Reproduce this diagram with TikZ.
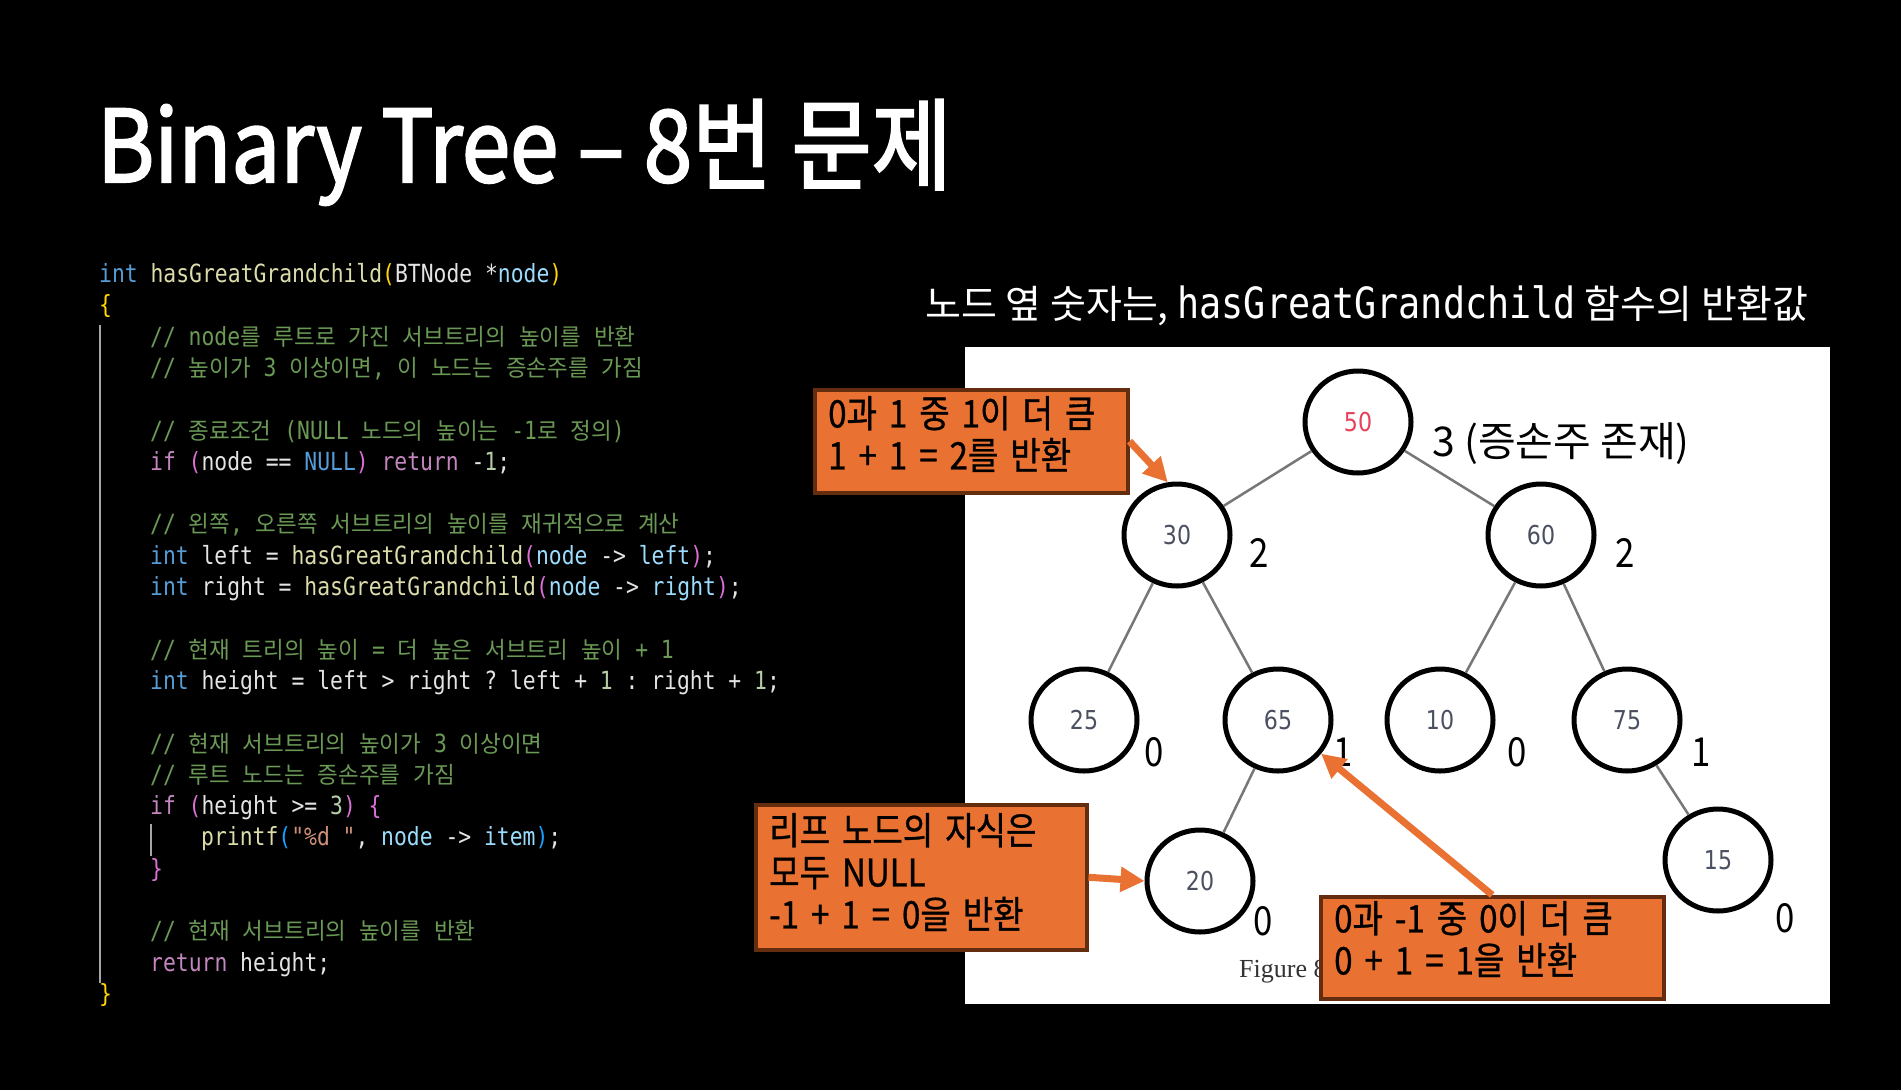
\documentclass[tikz,border=0pt]{standalone}
\usepackage{fontspec}
\usetikzlibrary{shapes.geometric,arrows.meta}
\setmainfont{Noto Sans CJK KR}
\newfontfamily\titlefont{Noto Sans CJK KR}[FakeStretch=0.87,FakeBold=2]
\newfontfamily\krfont{Noto Sans CJK KR}
\newfontfamily\krcond{Noto Sans CJK KR}[FakeStretch=0.87]
\newfontfamily\krcondb{Noto Sans CJK KR}[FakeStretch=0.87,FakeBold=0.8]
\newfontfamily\codefont{DejaVu Sans Mono}[FakeStretch=0.855]
\newfontfamily\codekr{Noto Sans CJK KR}[FakeStretch=0.97]
\newfontfamily\numfont{DejaVu Sans}[FakeStretch=0.85]
\newfontfamily\figfont{Liberation Serif}
\definecolor{ckw}{HTML}{569CD6}
\definecolor{cfn}{HTML}{DCDCAA}
\definecolor{ccm}{HTML}{6A9955}
\definecolor{cctl}{HTML}{C586C0}
\definecolor{cvar}{HTML}{9CDCFE}
\definecolor{cnum}{HTML}{B5CEA8}
\definecolor{cstr}{HTML}{CE9178}
\definecolor{cp1}{HTML}{FFD700}
\definecolor{cp2}{HTML}{DA70D6}
\definecolor{cp3}{HTML}{179FFF}
\definecolor{cwhite}{HTML}{E4E4E4}
\definecolor{boxorange}{RGB}{233,113,50}
\definecolor{boxbrown}{RGB}{100,45,15}
\definecolor{edgegray}{HTML}{777777}
\definecolor{numgray}{HTML}{4A5060}
\definecolor{numred}{HTML}{E8405A}
\newcommand\cc[2]{\textcolor{#1}{#2}}
\newcommand\K[1]{{\codekr\fontsize{23.2}{31}\selectfont #1}}
\newcommand\cm[1]{\textcolor{ccm}{#1}}
\newcommand\codesetup{\codefont\fontsize{25}{31}\selectfont\frenchspacing\spaceskip=12.8pt\relax}
\newcommand\boxsetup{\krcondb\fontsize{38}{42}\selectfont\frenchspacing\spaceskip=12pt\relax}
\tikzset{
  code/.style={anchor=base west, inner sep=0pt, text=cwhite, font=\codesetup},
  tnode/.style={ellipse, draw=black, line width=5pt, fill=white,
    minimum width=106pt, minimum height=102pt, inner sep=0pt,
    text=numgray, font=\numfont\fontsize{26}{28}\selectfont},
  tedge/.style={draw=edgegray, line width=2.5pt},
  vlabel/.style={inner sep=0pt, text=black, font=\krcond\fontsize{40}{44}\selectfont},
  obox/.style={draw=boxbrown, line width=3.5pt, fill=boxorange, anchor=north west,
    inner sep=0pt},
  btext/.style={anchor=west, inner sep=0pt, align=left, text=black, font=\boxsetup},
  oarrow/.style={draw=boxorange, line width=7pt, -{Triangle[length=24pt,width=24pt]}},
  guide/.style={draw=gray!70, line width=1.5pt}
}
\begin{document}
\begin{tikzpicture}[x=1pt,y=-1pt]
\useasboundingbox (0,0) rectangle (1901,1090);
\fill[black] (0,0) rectangle (1901,1090);

% title
\node[anchor=base west, inner sep=0pt, text=white, font=\titlefont\fontsize{100}{110}\selectfont] (title) at (97,182) {Binary Tree – 8번 문제};

% code
\draw[guide] (100,325) -- (100,983);
\draw[guide] (151,824) -- (151,856);
\node[code] (c0) at (99,282) {\cc{ckw}{int} \cc{cfn}{hasGreatGrandchild}\cc{cp1}{(}BTNode *\cc{cvar}{node}\cc{cp1}{)}};
\node[code] (c1) at (99,313) {\cc{cp1}{\{}};
\node[code] (c2) at (150,345) {\cm{// node\K{를 루트로 가진 서브트리의 높이를 반환}}};
\node[code] (c3) at (150,376) {\cm{// \K{높이가} 3 \K{이상이면}, \K{이 노드는 증손주를 가짐}}};
\node[code] (c5) at (150,439) {\cm{// \K{종료조건} (NULL \K{노드의 높이는} -1\K{로 정의})}};
\node[code] (c6) at (150,470) {\cc{cctl}{if} \cc{cp2}{(}node == \cc{ckw}{NULL}\cc{cp2}{)} \cc{cctl}{return} -\cc{cnum}{1};};
\node[code] (c8) at (150,532) {\cm{// \K{왼쪽}, \K{오른쪽 서브트리의 높이를 재귀적으로 계산}}};
\node[code] (c9) at (150,564) {\cc{ckw}{int} left = \cc{cfn}{hasGreatGrandchild}\cc{cp2}{(}\cc{cvar}{node} -> \cc{cvar}{left}\cc{cp2}{)};};
\node[code] (c10) at (150,595) {\cc{ckw}{int} right = \cc{cfn}{hasGreatGrandchild}\cc{cp2}{(}\cc{cvar}{node} -> \cc{cvar}{right}\cc{cp2}{)};};
\node[code] (c12) at (150,658) {\cm{// \K{현재 트리의 높이} = \K{더 높은 서브트리 높이} + 1}};
\node[code] (c13) at (150,689) {\cc{ckw}{int} height = left > right ? left + \cc{cnum}{1} : right + \cc{cnum}{1};};
\node[code] (c15) at (150,752) {\cm{// \K{현재 서브트리의 높이가} 3 \K{이상이면}}};
\node[code] (c16) at (150,783) {\cm{// \K{루트 노드는 증손주를 가짐}}};
\node[code] (c17) at (150,814) {\cc{cctl}{if} \cc{cp2}{(}height >= \cc{cnum}{3}\cc{cp2}{)} \cc{cp2}{\{}};
\node[code] (c18) at (201,845) {\cc{cfn}{printf}\cc{cp3}{(}\cc{cstr}{"\%d "}, \cc{cvar}{node} -> \cc{cvar}{item}\cc{cp3}{)};};
\node[code] (c19) at (150,877) {\cc{cp2}{\}}};
\node[code] (c21) at (150,939) {\cm{// \K{현재 서브트리의 높이를 반환}}};
\node[code] (c22) at (150,971) {\cc{cctl}{return} height;};
\node[code] (c23) at (99,1002) {\cc{cp1}{\}}};

% subtitle
\node[anchor=base west, inner sep=0pt, text=white, font=\krfont\fontsize{39}{42}\selectfont] (sub) at (925,318)
  {노드 옆 숫자는, {\codefont\fontsize{43}{44}\selectfont hasGreatGrandchild} 함수의 반환값};

% panel
\fill[white] (965,347) rectangle (1830,1004);

% tree
\node[tnode] (n50) at (1358,422) {\textcolor{numred}{50}};
\node[tnode] (n30) at (1177,535) {30};
\node[tnode] (n60) at (1541,535) {60};
\node[tnode] (n25) at (1084,720) {25};
\node[tnode] (n65) at (1278,720) {65};
\node[tnode] (n10) at (1440,720) {10};
\node[tnode] (n75) at (1627,720) {75};
\node[tnode] (n20) at (1200,881) {20};
\node[tnode] (n15) at (1718,860) {15};
\draw[tedge] (n50) -- (n30);
\draw[tedge] (n50) -- (n60);
\draw[tedge] (n30) -- (n25);
\draw[tedge] (n30) -- (n65);
\draw[tedge] (n60) -- (n10);
\draw[tedge] (n60) -- (n75);
\draw[tedge] (n65) -- (n20);
\draw[tedge] (n75) -- (n15);

% value labels
\node[vlabel, anchor=west, font=\krfont\fontsize{41}{44}\selectfont] (v50) at (1432,444) {3 (증손주 존재)};
\node[vlabel] (v30) at (1259,553) {2};
\node[vlabel] (v60) at (1625,553) {2};
\node[vlabel] (v25) at (1154,752) {0};
\node[vlabel] (v65) at (1343,752) {1};
\node[vlabel] (v10) at (1517,752) {0};
\node[vlabel] (v75) at (1701,752) {1};
\node[vlabel] (v20) at (1263,921) {0};
\node[vlabel] (v15) at (1785,918) {0};

\node[anchor=west, inner sep=0pt, text=black!80, font=\figfont\fontsize{26}{28}\selectfont] (fig) at (1239,972) {Figure 8};

% boxes
\node[obox, minimum width=313pt, minimum height=103pt] (b1) at (813,388) {};
\node[btext] (t1) at (828,434) {0과 1 중 1이 더 큼\\1 + 1 = 2를 반환};
\node[obox, minimum width=331pt, minimum height=145pt] (b2) at (754,803) {};
\node[btext] (t2) at (769,872) {리프 노드의 자식은\\모두 NULL\\-1 + 1 = 0을 반환};
\node[obox, minimum width=343pt, minimum height=102pt] (b3) at (1319,895) {};
\node[btext] (t3) at (1334,939) {0과 -1 중 0이 더 큼\\0 + 1 = 1을 반환};

% arrows
\draw[oarrow] (b1.east) -- (n30.100);
\draw[oarrow] (b2.east) -- (n20.west);
\draw[oarrow] (b3.north) -- (n65.-38);
\end{tikzpicture}
\end{document}
